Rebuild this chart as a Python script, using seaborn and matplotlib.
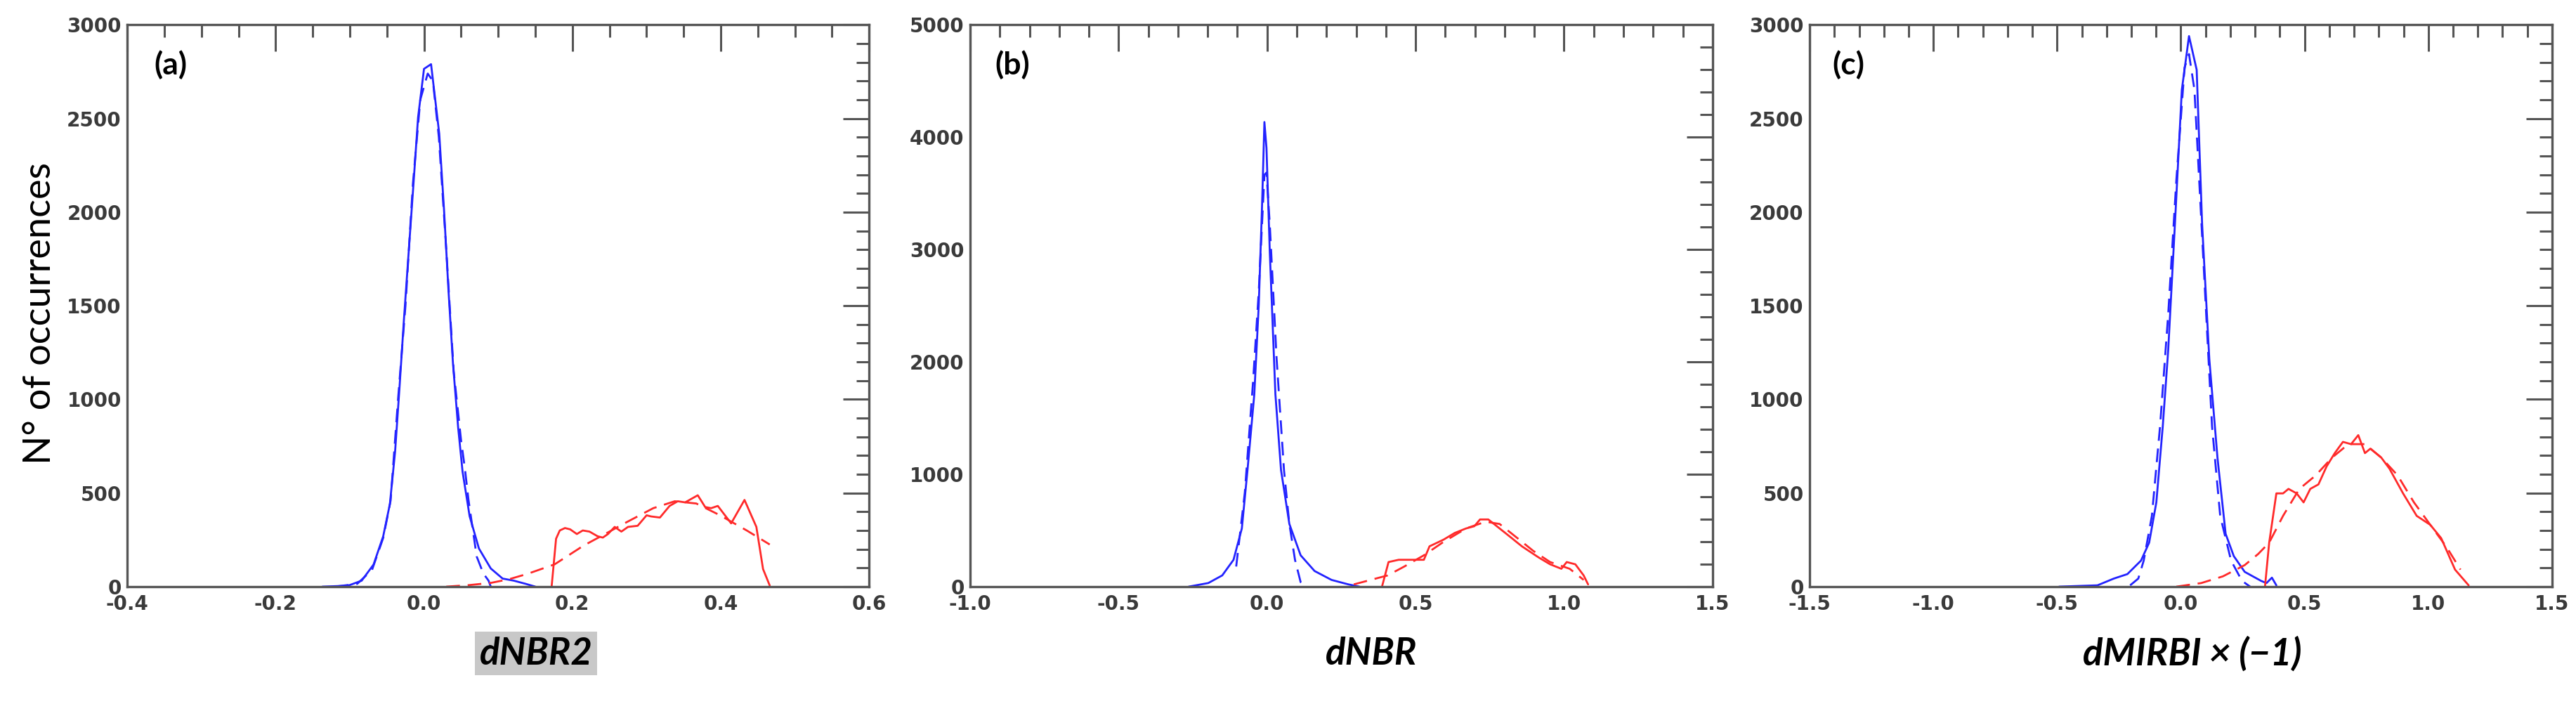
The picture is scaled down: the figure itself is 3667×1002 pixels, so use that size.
import matplotlib
matplotlib.use('Agg')
from matplotlib import pyplot as plt
from matplotlib.ticker import MultipleLocator, FormatStrFormatter
import seaborn as sns

# ---- panel (a): dNBR2 ----
a_unb_x = [-0.137, -0.1025, -0.084, -0.068, -0.055, -0.046, -0.039, -0.033, -0.027, -0.0205, -0.014, -0.008,
           0.0, 0.0095, 0.0205, 0.027, 0.033, 0.039, 0.046, 0.052, 0.0615, 0.074, 0.09, 0.106, 0.121, 0.137, 0.15]
a_unb_y = [0, 5, 32, 118, 269, 441, 720, 1065, 1430, 1796, 2162, 2506,
           2765, 2790, 2420, 2011, 1581, 1194, 850, 613, 376, 204, 97, 43, 32, 15, 0]
a_unb_fit_x = [-0.12, -0.09, -0.07, -0.055, -0.045, -0.035, -0.025, -0.015, -0.005, 0.005, 0.012, 0.02,
               0.03, 0.04, 0.05, 0.055, 0.06, 0.071, 0.08, 0.087, 0.09]
a_unb_fit_y = [0, 15, 90, 260, 460, 1000, 1500, 2150, 2600, 2740, 2700, 2400,
               1800, 1150, 780, 634, 462, 161, 70, 32, 0]
a_brn_x = [0.172, 0.178, 0.183, 0.190, 0.197, 0.206, 0.214, 0.223, 0.234, 0.241, 0.248, 0.257, 0.266, 0.275,
           0.288, 0.300, 0.306, 0.318, 0.331, 0.342, 0.352, 0.369, 0.379, 0.387, 0.396, 0.414, 0.432, 0.448,
           0.457, 0.466]
a_brn_y = [0, 256, 300, 313, 306, 281, 300, 294, 269, 262, 281, 319, 294, 319,
           325, 381, 375, 369, 431, 456, 450, 488, 425, 419, 431, 338, 463, 319,
           94, 6]
a_brn_fit_x = [0.03, 0.06, 0.09, 0.115, 0.14, 0.176, 0.215, 0.244, 0.273, 0.309, 0.338, 0.367, 0.399, 0.435, 0.466]
a_brn_fit_y = [0, 8, 20, 40, 69, 119, 219, 281, 344, 419, 456, 444, 381, 300, 225]

# ---- panel (b): dNBR ----
b_unb_x = [-0.264, -0.198, -0.151, -0.113, -0.085, -0.066, -0.043, -0.028, -0.017, -0.009, -0.002, 0.009,
           0.028, 0.047, 0.075, 0.113, 0.160, 0.217, 0.274, 0.311]
b_unb_y = [0, 32, 100, 239, 518, 1036, 1713, 2510, 3386, 4135, 3904, 2988,
           1713, 1036, 558, 279, 139, 60, 20, 0]
b_unb_fit_x = [-0.104, -0.075, -0.047, -0.028, -0.009, -0.002, 0.009, 0.032, 0.057, 0.075, 0.094, 0.113, 0.132]
b_unb_fit_y = [179, 837, 1833, 2630, 3665, 3685, 3227, 2032, 1036, 558, 239, 40, 0]
b_brn_x = [0.387, 0.409, 0.443, 0.481, 0.528, 0.547, 0.594, 0.632, 0.670, 0.698, 0.717, 0.745, 0.783, 0.821,
           0.858, 0.915, 0.953, 0.991, 1.009, 1.038, 1.066, 1.081]
b_brn_y = [0, 219, 239, 239, 239, 359, 418, 478, 518, 538, 598, 598, 518, 438,
           359, 259, 199, 159, 219, 199, 100, 20]
b_brn_fit_x = [0.292, 0.349, 0.406, 0.462, 0.528, 0.594, 0.670, 0.736, 0.783, 0.840, 0.896, 0.953, 1.019, 1.066]
b_brn_fit_y = [20, 60, 100, 179, 279, 398, 518, 578, 558, 438, 319, 219, 159, 60]

# ---- panel (c): dMIRBI x (-1) ----
c_unb_x = [-0.492, -0.337, -0.271, -0.216, -0.161, -0.128, -0.099, -0.073, -0.051, -0.024, 0.004, 0.033,
           0.064, 0.086, 0.115, 0.148, 0.181, 0.214, 0.258, 0.324, 0.346, 0.368, 0.386]
c_unb_y = [0, 7, 43, 67, 139, 235, 450, 857, 1264, 1934, 2653, 2940,
           2760, 1934, 1216, 689, 282, 163, 79, 31, 19, 48, 7]
c_unb_fit_x = [-0.205, -0.172, -0.150, -0.117, -0.084, -0.051, -0.018, 0.015, 0.033, 0.055, 0.093, 0.126,
               0.159, 0.203, 0.247, 0.280]
c_unb_fit_y = [7, 43, 139, 378, 857, 1456, 2174, 2772, 2844, 2653, 1695, 857,
               378, 139, 31, 0]
c_brn_x = [0.340, 0.357, 0.386, 0.413, 0.435, 0.468, 0.496, 0.523, 0.556, 0.589, 0.622, 0.655, 0.688, 0.717,
           0.744, 0.766, 0.810, 0.843, 0.898, 0.953, 1.008, 1.052, 1.108, 1.163]
c_brn_y = [0, 235, 498, 498, 522, 498, 450, 522, 546, 642, 713, 773, 761, 809,
           713, 737, 689, 630, 498, 378, 330, 259, 91, 7]
c_brn_fit_x = [-0.018, 0.082, 0.170, 0.258, 0.313, 0.357, 0.413, 0.479, 0.545, 0.611, 0.677, 0.744, 0.810,
               0.876, 0.942, 1.008, 1.074, 1.130]
c_brn_fit_y = [0, 19, 55, 115, 175, 235, 378, 522, 594, 689, 761, 761, 689,
               594, 450, 330, 211, 91]

sns.set_style('white')
plt.rcParams['font.family'] = ['Lato', 'DejaVu Sans']
plt.rcParams['axes.edgecolor'] = '#555555'
plt.rcParams['axes.linewidth'] = 2.4
plt.rcParams['xtick.direction'] = 'in'
plt.rcParams['ytick.direction'] = 'in'

BLUE = '#2323ff'
RED = '#ff2a2a'

fig = plt.figure(figsize=(36.67, 10.02), dpi=100)

panels = [
    dict(pos=[0.0494, 0.1667, 0.2880, 0.798],
         curves=[(a_unb_x, a_unb_y, BLUE, '-'), (a_unb_fit_x, a_unb_fit_y, BLUE, '--'),
                 (a_brn_x, a_brn_y, RED, '-'), (a_brn_fit_x, a_brn_fit_y, RED, '--')],
         xlim=(-0.4, 0.6), ylim=(0, 3000), xmaj=0.2, xmin=0.05, ymaj=500, ymin=100,
         tag='(a)', tagx=0.058, label='dNBR2', labx=0.551, shade=True),
    dict(pos=[0.3766, 0.1667, 0.2882, 0.798],
         curves=[(b_unb_x, b_unb_y, BLUE, '-'), (b_unb_fit_x, b_unb_fit_y, BLUE, '--'),
                 (b_brn_x, b_brn_y, RED, '-'), (b_brn_fit_x, b_brn_fit_y, RED, '--')],
         xlim=(-1.0, 1.5), ylim=(0, 5000), xmaj=0.5, xmin=0.1, ymaj=1000, ymin=200,
         tag='(b)', tagx=0.057, label='dNBR', labx=0.540, shade=False),
    dict(pos=[0.7025, 0.1667, 0.2882, 0.798],
         curves=[(c_unb_x, c_unb_y, BLUE, '-'), (c_unb_fit_x, c_unb_fit_y, BLUE, '--'),
                 (c_brn_x, c_brn_y, RED, '-'), (c_brn_fit_x, c_brn_fit_y, RED, '--')],
         xlim=(-1.5, 1.5), ylim=(0, 3000), xmaj=0.5, xmin=0.1, ymaj=500, ymin=100,
         tag='(c)', tagx=0.052, label='dMIRBI \u00d7 (\u22121)', labx=0.515, shade=False),
]

for p in panels:
    ax = fig.add_axes(p['pos'])
    for x, y, c, ls in p['curves']:
        sns.lineplot(x=x, y=y, ax=ax, color=c, linewidth=2.0, sort=False, estimator=None,
                     linestyle=(0, (7, 4)) if ls == '--' else '-')
    ax.set_xlim(*p['xlim'])
    ax.set_ylim(*p['ylim'])
    ax.xaxis.set_major_locator(MultipleLocator(p['xmaj']))
    ax.xaxis.set_minor_locator(MultipleLocator(p['xmin']))
    ax.yaxis.set_major_locator(MultipleLocator(p['ymaj']))
    ax.yaxis.set_minor_locator(MultipleLocator(p['ymin']))
    ax.xaxis.set_major_formatter(FormatStrFormatter('%.1f'))
    ax.yaxis.set_major_formatter(FormatStrFormatter('%d'))
    ax.tick_params(which='both', top=True, right=True, color='#555555', width=2.2)
    ax.tick_params(which='major', length=27)
    ax.tick_params(which='minor', length=13)
    ax.tick_params(axis='x', pad=8)
    ax.tick_params(axis='y', pad=6)
    for t in ax.get_xticklabels() + ax.get_yticklabels():
        t.set_fontfamily('DejaVu Sans')
        t.set_fontweight('bold')
        t.set_fontsize(20)
        t.set_color('#3a3a3a')
    ax.set_xlabel(None)
    ax.set_ylabel(None)
    ax.text(p['tagx'], 0.929, p['tag'], transform=ax.transAxes, ha='center', va='center',
            fontsize=32, fontweight='bold', color='black')
    bbox = dict(facecolor='#c8c8c8', edgecolor='none', boxstyle='square,pad=0.12') if p['shade'] else None
    ax.text(p['labx'], -0.119, p['label'], transform=ax.transAxes, ha='center', va='center',
            fontsize=38, fontweight='bold', fontstyle='italic', color='black', bbox=bbox)

fig.text(0.0153, 0.555, 'N\u00b0 of occurrences', rotation=90, ha='center', va='center',
         fontsize=39, color='black')

plt.savefig('out.png', dpi=100, facecolor='white')
